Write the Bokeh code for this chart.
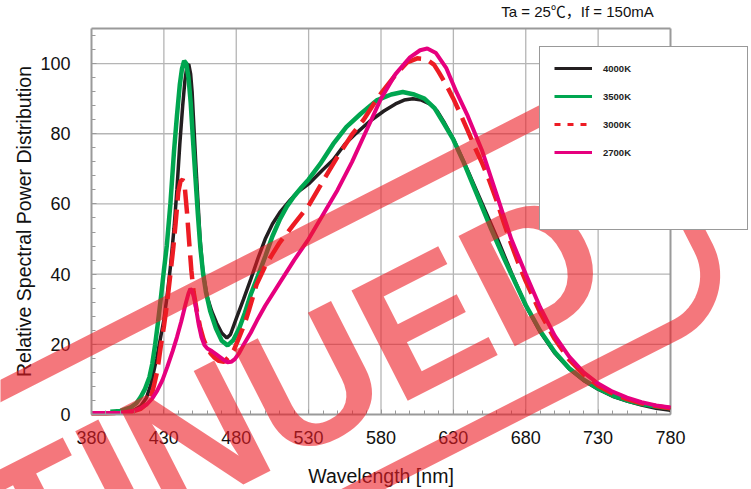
import numpy as np
from bokeh.plotting import figure
from bokeh.models import (Range1d, Label, Legend, LegendItem, PolyAnnotation, FixedTicker, LinearAxis)
from bokeh.core.properties import value
from bokeh.embed import file_html
from bokeh.resources import INLINE

# ---------------- data ----------------
wl_4000 = [393, 400, 405, 410, 414, 418, 421, 425, 428, 430, 432, 434.5, 437, 439, 441, 443, 444.5,
           446, 447.2, 448.5, 449.5, 450.5, 452, 453.5, 455, 457, 460, 463, 466.5, 470, 473.5, 476,
           480, 485, 490, 495, 500, 505, 510, 517, 522, 530, 540, 547, 555, 563, 572, 582, 590, 596,
           602, 608, 614, 619, 624, 630, 640, 650, 660, 670, 680, 690, 700, 710, 720, 730, 740, 750,
           760, 770, 780]
sp_4000 = [0.5, 0.5, 0.8, 1.4, 2.4, 4.8, 8.5, 16, 22.5, 27, 33, 42, 53, 64, 77, 88, 95,
           99.5, 99.8, 97, 92, 84, 72, 61, 50, 40.5, 33.5, 29.5, 26, 23.2, 21.8, 22.8,
           27.3, 32.8, 38.5, 44.5, 50, 54.3, 57.5, 61, 63.2, 65.7, 69.8, 72.6, 77, 80.2, 83.5, 86.5, 88.5, 89.6,
           90, 89.6, 88.4, 86.4, 83, 78.5, 69.5, 60, 50.5, 40.5, 31, 23.5, 17.5, 13, 9.7, 7.2, 5.2, 3.8,
           2.7, 1.8, 1.2]

wl_3500 = [393, 400, 407, 411, 414, 417, 420, 422, 424, 426, 428, 430, 432, 434.5, 437, 439, 441, 442.5,
           444, 445.5, 447, 448.5, 450, 451.8, 453.5, 455.2, 457, 459, 462, 466, 470, 474, 478, 482,
           486, 490, 495, 500, 505, 510, 515, 520, 525, 530, 538, 547, 556, 566, 577, 587, 595, 603,
           610, 617, 623.5, 630, 637, 646, 656, 665, 670, 680, 690, 700, 710, 720, 730, 740, 750, 760,
           770, 780]
sp_3500 = [0.8, 1.0, 2.0, 3.2, 5, 7.3, 10.6, 14.5, 20, 26.5, 33.5, 41, 48, 60, 75, 85, 94, 98.5,
           100.8, 100, 96, 89, 79, 67.5, 57, 47.6, 40.5, 35, 29.5, 24.5, 21, 19.7, 21.2, 24.5,
           29, 34.2, 39.5, 45, 50.8, 55.5, 59.3, 62.2, 64.7, 67, 71.4, 77.1, 81.9, 85.7, 89.5, 91.2, 91.9, 91.2,
           90, 87.3, 82.9, 78.3, 72, 63, 53, 44.5, 40, 31.2, 23.8, 17.8, 13.2, 9.9, 7.4, 5.4, 4, 3,
           2.3, 1.8]

wl_3000 = [380, 390, 400, 408, 414, 418, 421, 423, 425.5, 427.7, 430, 432, 434.5, 436.5, 438, 440, 441.5,
           443, 444.5, 446, 447.5, 449, 450.5, 453, 455, 457.5, 460, 462.5, 465, 468, 471.5, 475, 478.5,
           482, 485.5, 489, 494, 500, 505, 510, 520, 530, 541.5, 550, 560, 568, 575, 580, 590, 598, 605,
           611, 616.6, 620, 625, 630, 635, 640, 645, 650, 655, 660, 665, 670, 675, 680, 690, 700, 710,
           720, 730, 740, 750, 760, 770, 780]
sp_3000 = [0.3, 0.3, 0.5, 0.8, 1.6, 3, 5, 8, 12.5, 19, 25, 31, 40, 47.5, 54, 63.5, 66.5,
           67, 64.5, 57.5, 49, 41, 35, 29, 25, 21.3, 19, 17.3, 16.2, 15.3, 15, 16.5, 18.5,
           22, 25.5, 30, 37, 42.3, 45.7, 49, 54.3, 59.5, 67.6, 73.5, 79.8, 84, 88.5, 91.5, 96.8, 100.3, 101.5,
           101.3, 99.7, 97.5, 94, 90, 85.5, 80.8, 76, 71.5, 66.5, 60.8, 54.5, 48.5, 43, 38, 29, 21.5, 15.6,
           11.4, 8.2, 6, 4.4, 3.2, 2.4, 1.8]

wl_2700 = [380, 390, 400, 409, 414, 418.5, 422, 425.4, 429, 432.3, 436, 439, 442, 445, 447, 448.3, 449.5,
           451, 452.5, 454, 456, 458, 460, 463.3, 466, 469, 471.5, 474, 476.5, 479, 482, 485, 490, 495,
           500, 510, 520, 530, 540, 550, 560, 570, 580, 590, 600, 607, 612, 618, 625, 632, 640, 650, 660,
           670, 680, 690, 700, 710, 720, 730, 740, 750, 760, 770, 780]
sp_2700 = [0.4, 0.4, 0.5, 1, 1.8, 3, 4.6, 6.8, 9.8, 13.5, 18, 22, 26.5, 31.5, 34.5, 35.8, 35.3,
           33, 29.5, 25.8, 22, 19.8, 18.8, 18, 17.2, 16.3, 15.5, 14.9, 15, 15.8, 17.5, 19.8, 23.3, 27.3,
           31, 37.5, 44, 50, 57, 64, 72, 81, 90, 97, 101.8, 103.8, 104.3, 103, 98.8, 92, 85, 75, 62.5,
           50, 40, 30.5, 22.5, 16.5, 12, 8.8, 6.5, 4.8, 3.5, 2.6, 2.0]

series_names = ["4000K", "3500K", "3000K", "2700K"]
x_ticks = [380, 430, 480, 530, 580, 630, 680, 730, 780]
x_minor = list(range(380, 781, 10))
y_ticks = [0, 20, 40, 60, 80, 100]
y_minor = list(range(0, 109, 4))
title_text = "Ta = 25℃，If = 150mA"
x_label = "Wavelength [nm]"
y_label = "Relative Spectral Power Distribution"
stamp_text = "DISCONTINUED"

# ---------------- layout (pixels) ----------------
W, H = 751, 489
PL, PT, PW, PH = 91, 28, 579, 386          # plot area inside the canvas
X0, X1, Y0, Y1 = 380, 780, 0, 110          # axis extents
sxp = (X1 - X0) / PW
syp = (Y1 - Y0) / PH

def to_data(px, py):
    return (X0 + (px - PL) * sxp, Y1 - (py - PT) * syp)

xr0, yr1 = to_data(0, 0)
xr1, yr0 = to_data(W, H)

FONT = "Liberation Sans"
GRAY = "#9a9a9a"
C4000, C3500, C3000, C2700 = "#231f20", "#00a650", "#ed1c24", "#e6007e"

p = figure(width=W, height=H, output_backend="svg", toolbar_location=None,
           x_axis_type=None, y_axis_type=None,
           x_range=Range1d(xr0, xr1), y_range=Range1d(yr0, yr1), min_border=0)
p.background_fill_color = "white"
p.border_fill_color = "white"
p.outline_line_color = None

xaxis = LinearAxis(fixed_location=Y0, bounds=(X0, X1),
                   ticker=FixedTicker(ticks=x_ticks, minor_ticks=x_minor), axis_label=x_label)
yaxis = LinearAxis(fixed_location=X0, bounds=(Y0, Y1),
                   ticker=FixedTicker(ticks=y_ticks, minor_ticks=y_minor), axis_label=y_label)
for ax in (xaxis, yaxis):
    ax.axis_line_color = GRAY
    ax.axis_line_width = 2
    ax.major_tick_in = 5
    ax.major_tick_out = 0
    ax.major_tick_line_color = GRAY
    ax.minor_tick_in = 4
    ax.minor_tick_out = 0
    ax.minor_tick_line_color = GRAY
    ax.major_label_text_font = FONT
    ax.major_label_text_font_size = "18px"
    ax.major_label_text_color = "#111111"
    ax.axis_label_text_font = FONT
    ax.axis_label_text_font_size = "19.5px"
    ax.axis_label_text_font_style = "normal"
    ax.axis_label_text_color = "#111111"
xaxis.major_label_standoff = 16
yaxis.major_label_standoff = 21
xaxis.axis_label_standoff = 18
yaxis.axis_label_standoff = 2
p.add_layout(xaxis, "below")
p.add_layout(yaxis, "left")

# grid lines and plot border (from the tick lists)
gx = x_ticks[1:-1]
p.segment(x0=gx, y0=[Y0] * len(gx), x1=gx, y1=[Y1] * len(gx), line_color="#b5b5b5", line_width=1.3)
gy = y_ticks[1:]
p.segment(x0=[X0] * len(gy), y0=gy, x1=[X1] * len(gy), y1=gy, line_color="#b5b5b5", line_width=1.3)
p.segment(x0=[X0, X1], y0=[Y1, Y0], x1=[X1, X1], y1=[Y1, Y1], line_color=GRAY, line_width=2)

p.line(wl_4000, sp_4000, line_color=C4000, line_width=3.5)
p.line(wl_3500, sp_3500, line_color=C3500, line_width=4.5)
p.line(wl_3000, sp_3000, line_color=C3000, line_width=4.5, line_dash="24 9")
p.line(wl_2700, sp_2700, line_color=C2700, line_width=4)

# legend-only proxy renderers (not drawn: NaN data), with the legend's own line styles
nan2 = np.array([np.nan, np.nan])
k4000 = p.line(nan2, nan2, line_color=C4000, line_width=3.2)
k3500 = p.line(nan2, nan2, line_color=C3500, line_width=3.2)
k3000 = p.line(nan2, nan2, line_color=C3000, line_width=3.2, line_dash="6 7")
k2700 = p.line(nan2, nan2, line_color=C2700, line_width=3.2)
blank1 = p.line(nan2, nan2, line_alpha=0)
blank2 = p.line(nan2, nan2, line_alpha=0)

# legend box: 539..746 x 48..230 (pixels)
legend = Legend(items=[LegendItem(label=series_names[0], renderers=[k4000]),
                       LegendItem(label=series_names[1], renderers=[k3500]),
                       LegendItem(label=series_names[2], renderers=[k3000]),
                       LegendItem(label=series_names[3], renderers=[k2700]),
                       LegendItem(label=" ", renderers=[blank1]),
                       LegendItem(label=" ", renderers=[blank2])],
                location=(539, H - 230), padding=14, spacing=14, margin=0,
                glyph_height=14, label_height=14, glyph_width=38, label_standoff=11,
                label_width=130, border_line_color="#333333", border_line_width=1,
                background_fill_color="white", background_fill_alpha=1.0,
                label_text_font=FONT, label_text_font_size="9.5px",
                label_text_font_style="bold", label_text_color="#222222")
p.add_layout(legend)

tx, ty = to_data(577, 11)
p.add_layout(Label(x=tx, y=ty, text=title_text, text_align="center", text_baseline="middle",
                   text_font="Liberation Sans, Noto Sans CJK JP", text_font_size="15px",
                   text_color="#111111"))

# ---------------- "DISCONTINUED" stamp overlay ----------------
STAMP_RED = "#ec1c24"
th = np.deg2rad(27)
U = np.array([np.cos(th), -np.sin(th)])
V = np.array([np.sin(th), np.cos(th)])
u0, u1, v0, v1, rr = -1100, 514, 348, 600, 60
uv = []
for cu, cv, a0, a1 in [(u1 - rr, v0 + rr, 270, 360), (u1 - rr, v1 - rr, 0, 90),
                       (u0 + rr, v1 - rr, 90, 180), (u0 + rr, v0 + rr, 180, 270)]:
    for a in np.deg2rad(np.linspace(a0, a1, 20)):
        uv.append((cu + rr * np.cos(a), cv + rr * np.sin(a)))
stx, sty = [], []
for u, v in uv:
    pg = u * U + v * V
    dx, dy = to_data(pg[0], pg[1])
    stx.append(dx)
    sty.append(dy)
p.add_layout(PolyAnnotation(xs=stx, ys=sty, fill_alpha=0, line_color=STAMP_RED,
                            line_alpha=0.6, line_width=20))

# letters placed one by one along the stamp's baseline (Liberation Sans Bold advances)
FS = 180
adv = {"D": .722, "I": .278, "S": .667, "C": .722, "O": .778, "N": .722,
       "T": .611, "U": .722, "E": .667}
letters = list(stamp_text)
centre_last = np.array([533.0, 266.0])
pos = [0.0]
for i in range(len(letters) - 2, -1, -1):
    pos.insert(0, pos[0] - (adv[letters[i]] + adv[letters[i + 1]]) / 2 * FS)
lx, ly = [], []
for s in pos:
    c = centre_last + s * U
    dx, dy = to_data(c[0], c[1])
    lx.append(dx)
    ly.append(dy)
p.text(x=lx, y=ly, text=letters, angle=27, angle_units="deg",
       text_align="center", text_baseline="middle",
       text_font=value(FONT), text_font_size=f"{FS}px", text_font_style="bold",
       text_color=STAMP_RED, text_alpha=0.6, level="overlay")

open("out.html", "w").write(file_html(p, INLINE))
